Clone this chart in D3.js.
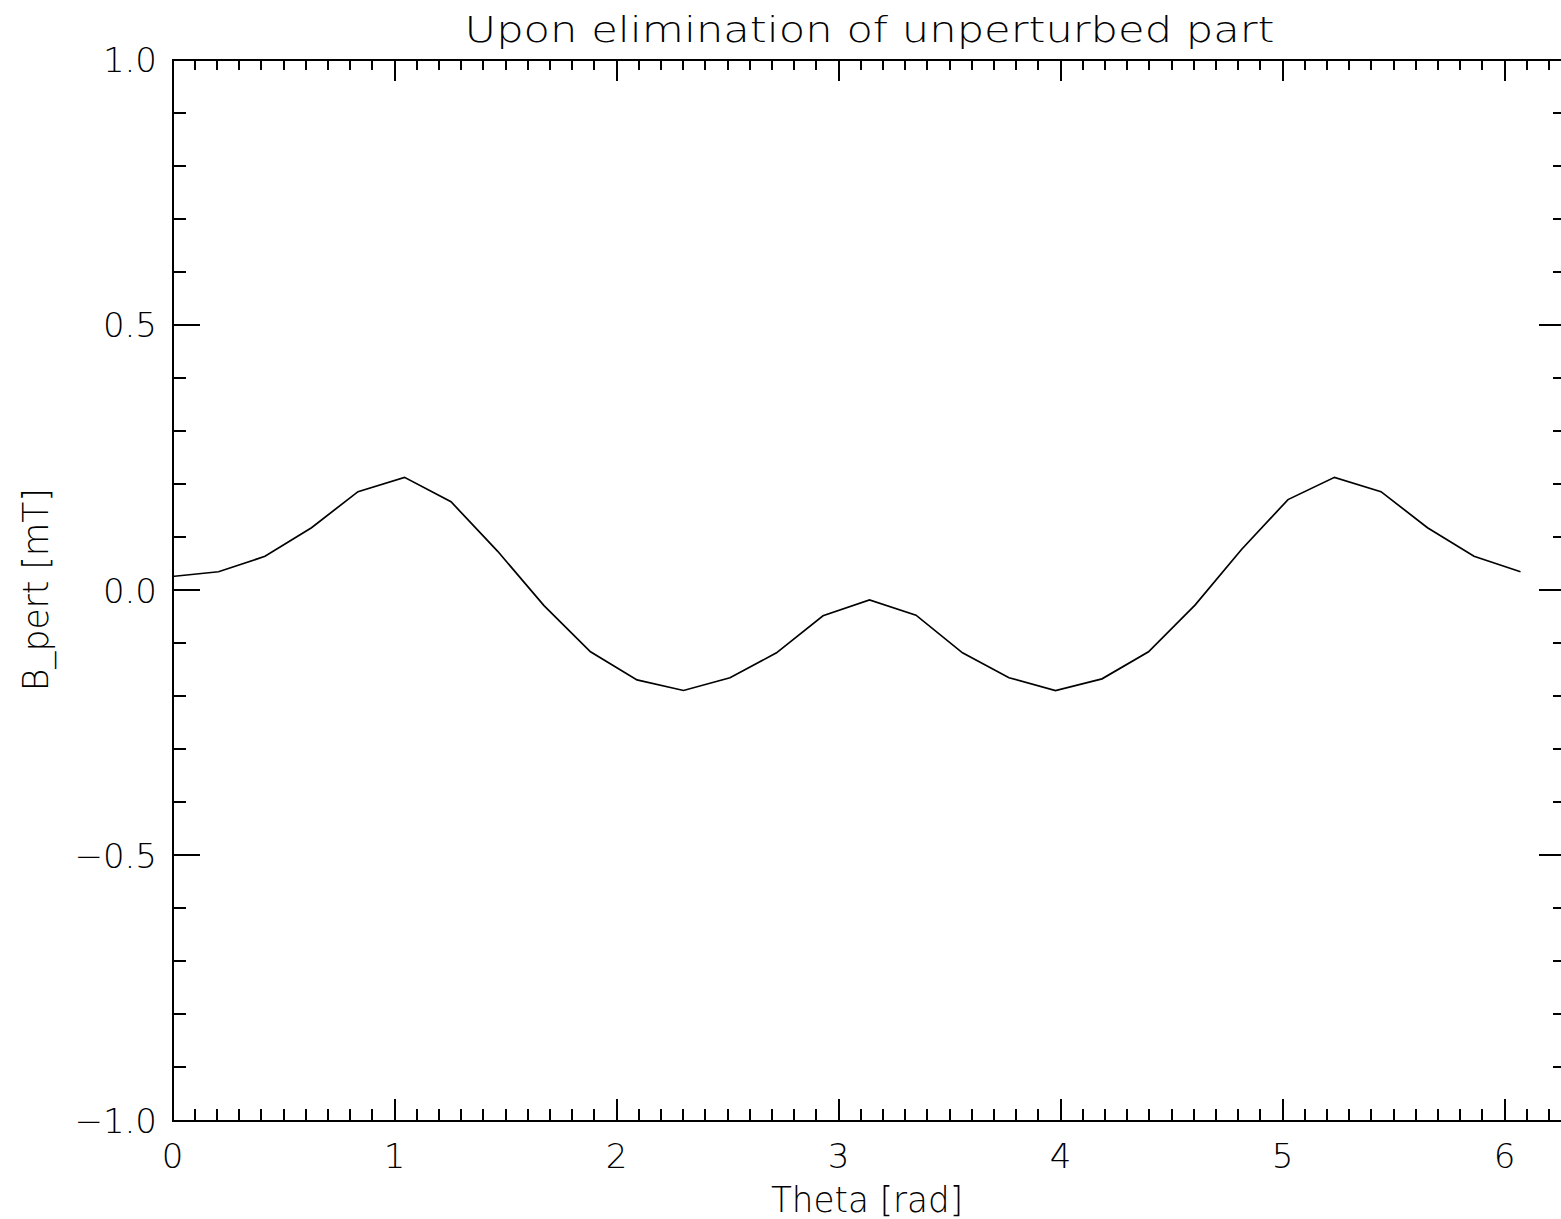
<!DOCTYPE html>
<html>
<head>
<meta charset="utf-8">
<script src="https://cdn.jsdelivr.net/npm/d3@7"></script>
<style>
  html, body { margin: 0; padding: 0; background: #fff; overflow: hidden; }
  svg { display: block; }
  text { font-family: 'DejaVu Sans', sans-serif; font-weight: 200; fill: #000; }
  .axis path, .axis line { stroke: #000; stroke-width: 2; shape-rendering: crispEdges; }
  .axis text { font-size: 34px; }
  .curve { fill: none; stroke: #000; stroke-width: 1.7; }
</style>
</head>
<body>
<div class="viz"></div>
<script>
  // sampled at theta = i * 2pi / 30, i = 0..29
  const samples = 30
  const bPert = [
    0.025, 0.034, 0.063, 0.117, 0.185, 0.212, 0.166, 0.073, -0.030, -0.117,
    -0.170, -0.190, -0.166, -0.119, -0.049, -0.019, -0.048, -0.119, -0.166, -0.190,
    -0.168, -0.117, -0.029, 0.076, 0.170, 0.212, 0.185, 0.117, 0.063, 0.034
  ]
  const xTicks = [0, 1, 2, 3, 4, 5, 6]
  const yTicks = [-1.0, -0.5, 0.0, 0.5, 1.0]
  const xDomain = [0, 2 * Math.PI]
  const yDomain = [-1, 1]
  const titleText = 'Upon elimination of unperturbed part'
  const xLabel = 'Theta [rad]'
  const yLabel = 'B_pert [mT]'

  const width = 1561
  const height = 1219
  const margin = { top: 59.5, left: 172, right: -6, bottom: 99 }
  const innerWidth = width - margin.left - margin.right
  const innerHeight = height - margin.top - margin.bottom

  const data = bPert.map((v, i) => ({ x: i * 2 * Math.PI / samples, y: v }))

  const svg = d3.select('.viz')
    .append('svg')
      .attr('width', width)
      .attr('height', height)
      .attr('viewBox', `0 0 ${width} ${height}`)

  const g = svg.append('g')
    .attr('transform', `translate(${margin.left} ${margin.top})`)

  const xScale = d3.scaleLinear().domain(xDomain).range([0, innerWidth])
  const yScale = d3.scaleLinear().domain(yDomain).range([innerHeight, 0])

  const xMajor = innerHeight * 0.02
  const yMajor = innerWidth * 0.02
  const xMinorValues = d3.range(0, 63).map(d => d / 10).filter(d => d % 1 !== 0)
  const yMinorValues = d3.range(-10, 11).map(d => d / 10).filter(d => Math.abs(d * 2) % 1 > 0.01)

  // ticks only, no labels
  const bare = sel => sel.selectAll('text').remove()

  // BOTTOM / TOP
  g.append('g')
    .attr('class', 'axis x-axis')
    .attr('transform', `translate(0 ${innerHeight})`)
    .call(d3.axisBottom(xScale)
      .tickValues(xTicks)
      .tickFormat(d3.format('d'))
      .tickSizeInner(-xMajor)
      .tickSizeOuter(0)
      .tickPadding(24))

  g.append('g')
    .attr('class', 'axis')
    .attr('transform', `translate(0 ${innerHeight})`)
    .call(d3.axisBottom(xScale)
      .tickValues(xMinorValues)
      .tickSizeInner(-xMajor / 2)
      .tickSizeOuter(0))
    .call(bare)

  g.append('g')
    .attr('class', 'axis')
    .call(d3.axisTop(xScale)
      .tickValues(xTicks)
      .tickSizeInner(-xMajor)
      .tickSizeOuter(0))
    .call(bare)

  g.append('g')
    .attr('class', 'axis')
    .call(d3.axisTop(xScale)
      .tickValues(xMinorValues)
      .tickSizeInner(-xMajor / 2)
      .tickSizeOuter(0))
    .call(bare)

  // LEFT / RIGHT
  g.append('g')
    .attr('class', 'axis y-axis')
    .call(d3.axisLeft(yScale)
      .tickValues(yTicks)
      .tickFormat(d => d3.format('.1f')(d).replace('-', '\u2212'))
      .tickSizeInner(-yMajor)
      .tickSizeOuter(0)
      .tickPadding(15))
    .selectAll('text')
      .attr('dy', '0.36em')

  g.append('g')
    .attr('class', 'axis')
    .call(d3.axisLeft(yScale)
      .tickValues(yMinorValues)
      .tickSizeInner(-yMajor / 2)
      .tickSizeOuter(0))
    .call(bare)

  g.append('g')
    .attr('class', 'axis')
    .attr('transform', `translate(${innerWidth} 0)`)
    .call(d3.axisRight(yScale)
      .tickValues(yTicks)
      .tickSizeInner(-yMajor)
      .tickSizeOuter(0))
    .call(bare)

  g.append('g')
    .attr('class', 'axis')
    .attr('transform', `translate(${innerWidth} 0)`)
    .call(d3.axisRight(yScale)
      .tickValues(yMinorValues)
      .tickSizeInner(-yMajor / 2)
      .tickSizeOuter(0))
    .call(bare)

  // CURVE
  g.append('path')
    .attr('class', 'curve')
    .datum(data)
    .attr('d', d3.line()
      .x(d => xScale(d.x))
      .y(d => yScale(d.y)))

  // LABELS
  svg.append('text')
    .attr('x', margin.left + innerWidth / 2)
    .attr('y', 41.5)
    .attr('text-anchor', 'middle')
    .attr('font-size', 35)
    .attr('textLength', 810)
    .attr('lengthAdjust', 'spacingAndGlyphs')
    .text(titleText)

  svg.append('text')
    .attr('x', 867)
    .attr('y', 1212)
    .attr('text-anchor', 'middle')
    .attr('font-size', 35)
    .attr('textLength', 192)
    .attr('lengthAdjust', 'spacingAndGlyphs')
    .text(xLabel)

  svg.append('text')
    .attr('transform', `translate(48 ${margin.top + innerHeight / 2}) rotate(-90)`)
    .attr('text-anchor', 'middle')
    .attr('font-size', 35)
    .attr('textLength', 203)
    .attr('lengthAdjust', 'spacingAndGlyphs')
    .text(yLabel)
</script>
</body>
</html>
